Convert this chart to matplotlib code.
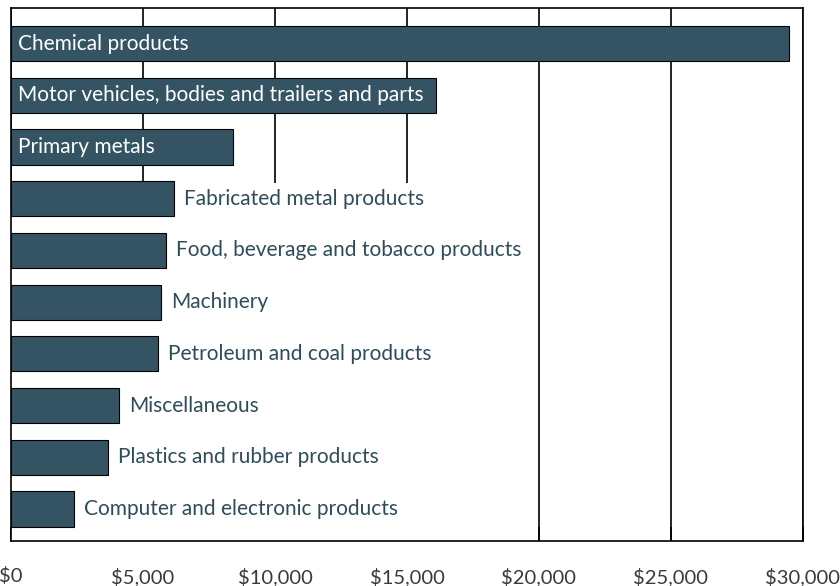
import matplotlib.pyplot as plt
from matplotlib.patches import Rectangle
from matplotlib.ticker import FuncFormatter

plt.rcParams['font.family'] = ['Lato', 'DejaVu Sans']

categories = ['Chemical products',
              'Motor vehicles, bodies and trailers and parts',
              'Primary metals',
              'Fabricated metal products',
              'Food, beverage and tobacco products',
              'Machinery',
              'Petroleum and coal products',
              'Miscellaneous',
              'Plastics and rubber products',
              'Computer and electronic products']
values = [29470, 16100, 8410, 6175, 5870, 5680, 5570, 4090, 3670, 2390]
inside = [True, True, True, False, False, False, False, False, False, False]

bar_color = '#345464'
text_color = '#2e4d5a'

fig = plt.figure(figsize=(8.4, 5.86), dpi=100)
ax = fig.add_axes([11/840, 1 - 541/586, 792/840, 533/586])

ypos = list(range(len(values)))
ax.barh(ypos, values, height=0.68, color=bar_color, edgecolor='black',
        linewidth=0.8, zorder=2)
ybottom = len(values) - 1 + 0.62
ax.set_ylim(ybottom, -0.69)
ax.set_xlim(0, 30000)

labels = []
for y, v, name, ins in zip(ypos, values, categories, inside):
    if ins:
        ax.text(280, y, name, color='white', va='center', ha='left',
                fontsize=15, zorder=3)
    else:
        t = ax.text(v + 380, y, name, color=text_color, va='center',
                    ha='left', fontsize=15, zorder=3)
        labels.append(t)

# white block behind the outside labels hides the gridlines there
fig.canvas.draw()
inv = ax.transData.inverted()
x1 = max(inv.transform((t.get_window_extent().x1, 0))[0] for t in labels)
first = inside.index(False)
top = first - 0.3
ax.add_patch(Rectangle((0, top), x1 + 150, ybottom - top,
                       facecolor='white', edgecolor='none', zorder=1))

ax.set_xticks(range(0, 30001, 5000))
ax.xaxis.set_major_formatter(FuncFormatter(lambda x, p: '${:,.0f}'.format(x)))
ax.grid(axis='x', color='black', linewidth=1.2, zorder=0)
ax.set_axisbelow(True)
ax.set_yticks([])
ax.tick_params(axis='x', direction='in', length=10, width=1.2,
               pad=19, labelsize=14.5, labelcolor='#3a3a3a')
for s in ax.spines.values():
    s.set_linewidth(1.2)

fig.savefig('out.png', dpi=100)
